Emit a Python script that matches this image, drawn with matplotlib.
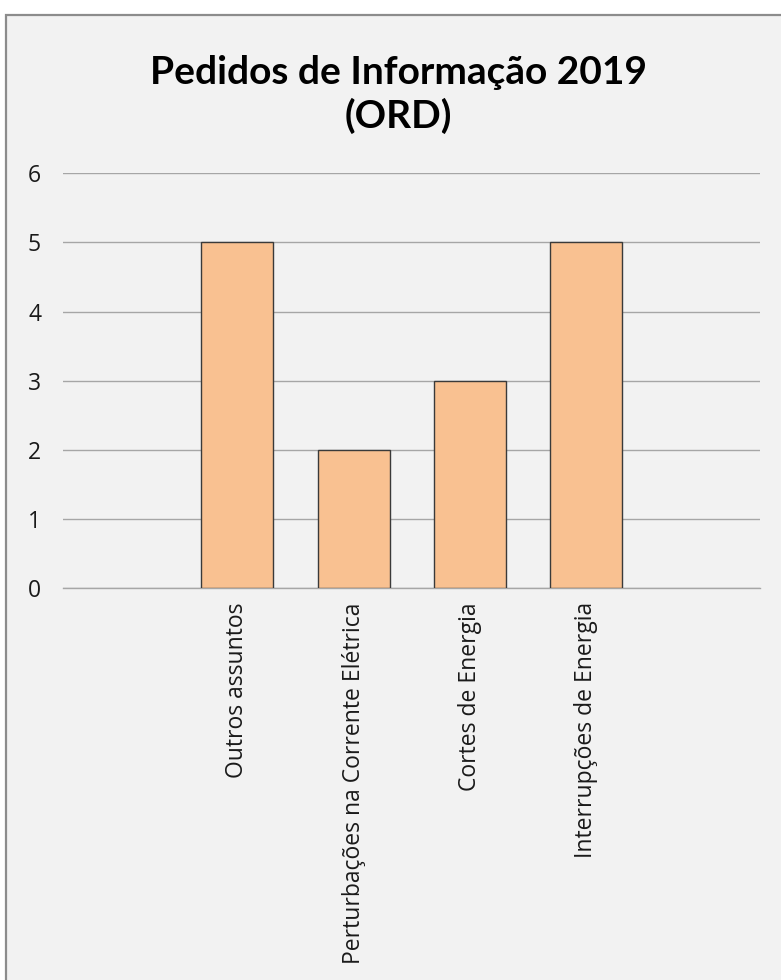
import matplotlib
matplotlib.use("Agg")
import matplotlib.pyplot as plt
from matplotlib.patches import Rectangle

categories = ["Outros assuntos", "Perturbações na Corrente Elétrica",
              "Cortes de Energia", "Interrupções de Energia"]
values = [5, 2, 3, 5]
yticks = [0, 1, 2, 3, 4, 5, 6]
title = "Pedidos de Informação 2019\n(ORD)"

BG = "#f2f2f2"
W, H = 781, 980
fig = plt.figure(figsize=(W / 100, H / 100), dpi=100, facecolor="white")

# chart area frame
frame = Rectangle((6 / W, -0.01), 1.0, 1 - 15 / H + 0.01,
                  transform=fig.transFigure, facecolor=BG,
                  edgecolor="#8c8c8c", linewidth=1.6, zorder=-10)
fig.patches.append(frame)

ax = fig.add_axes([63.3 / W, 1 - 588.3 / H, (760 - 63.3) / W, (588.3 - 173.3) / H])
ax.set_zorder(5)
ax.patch.set_visible(False)

x = list(range(len(categories)))
ax.bar(x, values, width=0.62, color="#f9c191", edgecolor="#3a3a3a",
       linewidth=1.0, zorder=3)
ax.set_xlim(-1.5, len(categories) + 0.5)
ax.set_ylim(0, 6)
ax.set_yticks(yticks)
ax.grid(axis="y", color="#a6a6a6", linewidth=1.0, zorder=0)
ax.set_axisbelow(True)
for s in ["top", "right", "left"]:
    ax.spines[s].set_visible(False)
ax.spines["bottom"].set_color("#a6a6a6")
ax.spines["bottom"].set_linewidth(1.0)

ax.set_xticks(x)
ax.set_xticklabels(categories, rotation=90, fontsize=16.5, family="Open Sans",
                   color="#1a1a1a", va="top", ha="center")
ax.tick_params(axis="x", length=0, pad=10)
ax.tick_params(axis="y", length=0, pad=16, labelsize=16.5, labelcolor="#1a1a1a")
for lbl in ax.get_yticklabels():
    lbl.set_family("Open Sans")

fig.text(398 / W, 1 - 55 / H, title, ha="center", va="top", fontsize=28,
         fontweight="bold", family="Lato", color="black", linespacing=1.25,
         zorder=6)

fig.savefig("out.png", dpi=100, facecolor="white")
